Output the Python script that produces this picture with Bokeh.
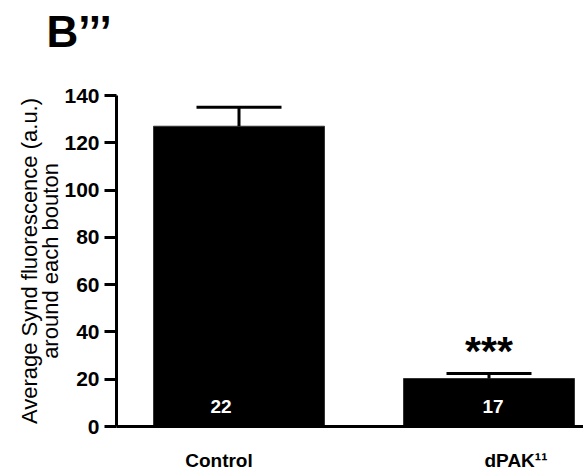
from bokeh.plotting import figure
from bokeh.models import Range1d, Title, FixedTicker, ColumnDataSource
from bokeh.core.properties import value
from bokeh.embed import file_html
from bokeh.resources import INLINE

categories = ["Control", "dPAK\u00b9\u00b9"]
means = [127.0, 20.3]
sems = [8.0, 2.1]
n_counts = ["22", "17"]
significance = ["", "***"]
y_ticks = [0, 20, 40, 60, 80, 100, 120, 140]

FONT = "Liberation Sans"
xs = list(range(len(categories)))
label_shift = [-0.08, 0.108]   # category labels sit slightly off the bar centres

src = ColumnDataSource(dict(
    x=xs, mean=means, top=[m + s for m, s in zip(means, sems)],
    cap0=[x - 0.17 for x in xs], cap1=[x + 0.17 for x in xs],
    n=n_counts, sig=significance, nx_off=[-18, 4],
))

p = figure(width=583, height=473, x_range=Range1d(-0.49, 1.378), y_range=Range1d(0, 140),
           title=None, output_backend="svg", toolbar_location=None,
           min_border_left=116, min_border_right=0, min_border_top=95, min_border_bottom=46)
p.outline_line_color = None
p.xgrid.grid_line_color = None
p.ygrid.grid_line_color = None
p.background_fill_color = "white"

# spacer between frame and panel title, then the panel letter
p.add_layout(Title(text=" ", text_font_size="34px", standoff=0), "above")
p.add_layout(Title(text="B\u2019\u2019\u2019", text_font=FONT, text_font_size="44px", text_font_style="bold",
                   text_color="black", align="left", offset=-70, standoff=0), "above")

# y axis
ya = p.yaxis[0]
ya.ticker = FixedTicker(ticks=y_ticks)
ya.major_tick_out = 12
ya.major_tick_in = 0
ya.minor_tick_line_color = None
ya.major_tick_line_width = 3
ya.axis_line_width = 3
ya.major_label_standoff = 5
ya.major_label_text_font = FONT
ya.major_label_text_font_size = "21px"
ya.major_label_text_font_style = "bold"
ya.major_label_text_color = "black"

# x axis: line plus category labels
xa = p.xaxis[0]
xa.axis_line_width = 3
xa.ticker = FixedTicker(ticks=[x + s for x, s in zip(xs, label_shift)])
xa.major_label_overrides = {x + s: c for x, s, c in zip(xs, label_shift, categories)}
xa.major_tick_line_color = None
xa.minor_tick_line_color = None
xa.major_label_standoff = 17
xa.major_label_text_font = FONT
xa.major_label_text_font_size = "19px"
xa.major_label_text_font_style = "bold"
xa.major_label_text_color = "black"

# y axis label as two lines
for txt, so in [("around each bouton", -3), ("Average Synd fluorescence (a.u.)", -8)]:
    t = Title(text=txt, align="center", text_font=FONT, text_font_size="22px",
              text_font_style="normal", text_color="black", standoff=so, text_line_height=0.95)
    p.add_layout(t, "left")

# bars
p.vbar(x="x", top="mean", width=0.684, source=src, fill_color="black", line_color="#333333", line_width=1)
# error bars
p.segment(x0="x", y0="mean", x1="x", y1="top", source=src, line_color="black", line_width=3)
p.segment(x0="cap0", y0="top", x1="cap1", y1="top", source=src, line_color="black", line_width=3)

# n labels
p.text(x="x", y=8.5, text="n", source=src, x_offset="nx_off", text_align="center", text_baseline="middle",
       text_color="white", text_font=value(FONT), text_font_size="19px", text_font_style="bold")
# significance
p.text(x="x", y="top", text="sig", source=src, y_offset=0, text_align="center", text_baseline="bottom",
       text_color="black", text_font=value(FONT), text_font_size="41px", text_font_style="bold")

open("out.html", "w").write(file_html(p, INLINE))
